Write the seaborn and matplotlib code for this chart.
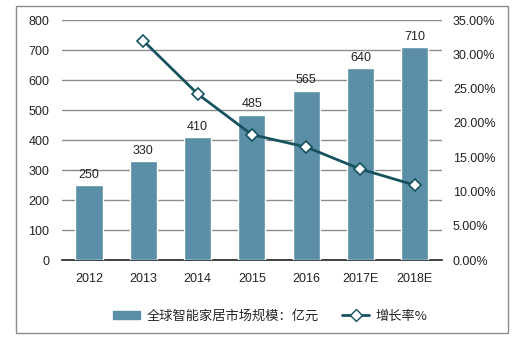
import matplotlib
matplotlib.use("Agg")
import matplotlib.pyplot as plt
import seaborn as sns
import pandas as pd
from matplotlib.patches import Rectangle
from matplotlib.lines import Line2D
from matplotlib.ticker import FuncFormatter, MultipleLocator

years = ["2012", "2013", "2014", "2015", "2016", "2017E", "2018E"]
market = [250, 330, 410, 485, 565, 640, 710]
growth_years = ["2013", "2014", "2015", "2016", "2017E", "2018E"]
growth = [0.32, 0.2424, 0.1829, 0.1649, 0.1327, 0.1094]

bar_label = "全球智能家居市场规模：亿元"
line_label = "增长率%"

bar_color = "#5b8fa8"
line_color = "#17535f"

sns.set_style("white")
plt.rcParams["font.family"] = ["Liberation Sans", "Noto Sans CJK SC", "DejaVu Sans"]

fig = plt.figure(figsize=(5.15, 3.4), dpi=100)
ax = fig.add_axes([0.120, 0.235, 0.738, 0.706])

df = pd.DataFrame({"year": years, "value": market})
sns.barplot(data=df, x="year", y="value", color=bar_color, width=0.5,
            saturation=1, ax=ax, zorder=3)

ax.set_ylim(0, 800)
ax.yaxis.set_major_locator(MultipleLocator(100))
ax.set_xlim(-0.5, len(years) - 0.5)
ax.grid(axis="y", color="#8c8c8c", linewidth=1, zorder=0)
ax.set_axisbelow(True)
for s in ["top", "right", "left"]:
    ax.spines[s].set_visible(False)
ax.spines["bottom"].set_color("#222222")
ax.spines["bottom"].set_linewidth(1.2)
ax.set_xlabel("")
ax.set_ylabel("")
ax.tick_params(axis="y", length=0, labelsize=9, pad=9, colors="#222222")
ax.tick_params(axis="x", length=0, labelsize=9, pad=9, colors="#222222")

for i, v in enumerate(market):
    ax.text(i, v + 14, str(v), ha="center", va="bottom", fontsize=9, color="#222222")

ax2 = ax.twinx()
pos = [years.index(y) for y in growth_years]
gdf = pd.DataFrame({"pos": pos, "growth": growth})
sns.lineplot(data=gdf, x="pos", y="growth", ax=ax2, color=line_color, linewidth=2,
             marker="D", markersize=6.5, markerfacecolor="white",
             markeredgecolor=line_color, markeredgewidth=1.2, zorder=5)
ax2.set_ylim(0, 0.35)
ax2.yaxis.set_major_locator(MultipleLocator(0.05))
ax2.yaxis.set_major_formatter(FuncFormatter(lambda v, p: f"{v*100:.2f}%"))
ax2.set_xlim(-0.5, len(years) - 0.5)
for s in ax2.spines.values():
    s.set_visible(False)
ax2.set_ylabel("")
ax2.set_xlabel("")
ax2.tick_params(axis="y", length=0, labelsize=9, pad=8, colors="#222222")
ax2.grid(False)

handles = [Rectangle((0, 0), 1, 1, color=bar_color),
           Line2D([], [], color=line_color, linewidth=2, marker="D", markersize=6.5,
                  markerfacecolor="white", markeredgecolor=line_color)]
fig.legend(handles, [bar_label, line_label], loc="center", bbox_to_anchor=(0.525, 0.07),
           ncol=2, frameon=False, handlelength=2.0, handleheight=0.5, handletextpad=0.5,
           columnspacing=1.8,
           prop={"family": ["Noto Sans CJK SC", "DejaVu Sans"], "size": 9.5})

fig.add_artist(Rectangle((0.031, 0.021), 0.955, 0.962, transform=fig.transFigure,
                         fill=False, edgecolor="#8c8c8c", linewidth=1))

fig.savefig("out.png", dpi=100)
